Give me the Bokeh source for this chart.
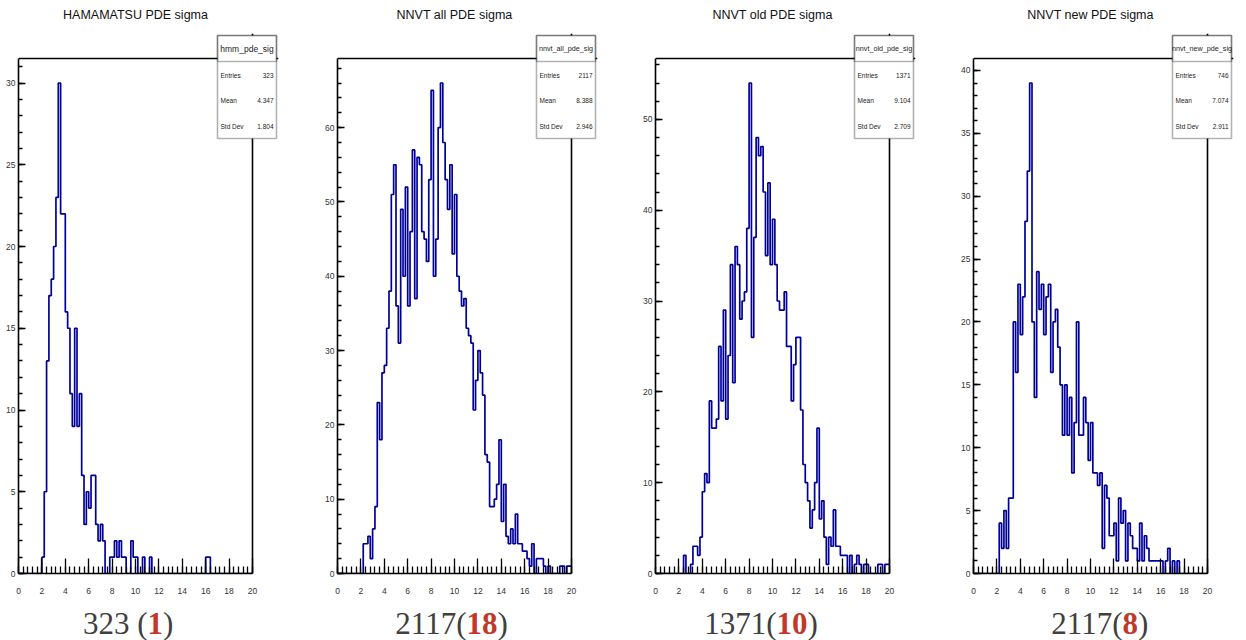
from bokeh.plotting import figure
from bokeh.layouts import row, column
from bokeh.models import Range1d, SingleIntervalTicker, BoxAnnotation, Span, Label
from bokeh.embed import file_html
from bokeh.resources import INLINE

# ---------------- data ----------------
bin_edges = [round(0.2 * i, 1) for i in range(101)]   # 100 bins, 0..20

hmm_counts = [
    0, 0, 0, 0, 0, 0, 0, 0, 0, 0,
    1, 5, 13, 17, 18, 20, 23, 30, 22, 22,
    16, 15, 11, 9, 15, 9, 11, 6, 3, 5,
    4, 6, 6, 3, 2, 3, 2, 0, 0, 1,
    1, 2, 1, 2, 1, 1, 0, 0, 2, 1,
    1, 0, 0, 1, 0, 0, 1, 0, 0, 0,
    0, 0, 0, 0, 0, 0, 0, 0, 0, 0,
    0, 0, 0, 0, 0, 0, 0, 0, 0, 0,
    1, 1, 0, 0, 0, 0, 0, 0, 0, 0,
    0, 0, 0, 0, 0, 0, 0, 0, 0, 0]

nnvt_all_counts = [
    0, 0, 0, 0, 0, 0, 0, 0, 0, 0,
    0, 4, 4, 5, 2, 6, 9, 23, 18, 27,
    28, 33, 38, 51, 55, 36, 31, 49, 40, 52,
    36, 46, 57, 37, 56, 55, 46, 45, 42, 53,
    65, 40, 45, 60, 66, 58, 53, 49, 55, 43,
    51, 40, 38, 36, 37, 33, 32, 31, 22, 26,
    30, 27, 24, 16, 15, 9, 9, 10, 12, 18,
    7, 12, 5, 4, 6, 4, 8, 4, 4, 3,
    3, 2, 1, 4, 0, 2, 2, 2, 1, 0,
    1, 0, 0, 0, 0, 1, 1, 0, 1, 1]

nnvt_old_counts = [
    0, 0, 0, 0, 0, 0, 0, 0, 0, 0,
    0, 0, 2, 0, 0, 1, 3, 3, 2, 4,
    9, 11, 10, 19, 16, 16, 17, 25, 19, 29,
    17, 24, 34, 21, 36, 34, 28, 30, 31, 38,
    54, 26, 37, 48, 46, 47, 42, 35, 43, 34,
    39, 34, 30, 29, 29, 31, 25, 25, 19, 23,
    26, 26, 18, 12, 10, 8, 5, 7, 10, 16,
    6, 8, 4, 1, 4, 3, 7, 3, 3, 2,
    2, 2, 0, 2, 0, 1, 2, 1, 0, 1,
    1, 0, 0, 0, 0, 1, 1, 0, 1, 1]

nnvt_new_counts = [
    0, 0, 0, 0, 0, 0, 0, 0, 0, 0,
    0, 4, 2, 5, 2, 6, 6, 20, 16, 23,
    19, 22, 28, 32, 39, 20, 14, 24, 21, 23,
    19, 22, 23, 16, 20, 21, 18, 15, 11, 15,
    11, 14, 8, 12, 20, 11, 11, 14, 12, 9,
    12, 8, 8, 7, 8, 2, 7, 6, 3, 3,
    4, 1, 6, 4, 5, 1, 4, 3, 2, 2,
    1, 4, 1, 3, 2, 1, 1, 1, 1, 1,
    1, 0, 1, 2, 0, 1, 0, 1, 0, 0,
    0, 0, 0, 0, 0, 0, 0, 0, 0, 0]

titles = ["HAMAMATSU PDE sigma", "NNVT all PDE sigma", "NNVT old PDE sigma", "NNVT new PDE sigma"]
hist_names = ["hmm_pde_sig", "nnvt_all_pde_sig", "nnvt_old_pde_sig", "nnvt_new_pde_sig"]
entries = ["323", "2117", "1371", "746"]
means = ["4.347", "8.388", "9.104", "7.074"]
std_devs = ["1.804", "2.946", "2.709", "2.911"]
caption_main = ["323 (", "2117(", "1371(", "2117("]
caption_red = ["1", "18", "10", "8"]
y_major = [5, 10, 10, 5]
all_counts = [hmm_counts, nnvt_all_counts, nnvt_old_counts, nnvt_new_counts]

# ---------------- layout geometry (pixels) ----------------
W = 1246
fig_widths = [318, 318, 318, 292]
fig_offsets = [0, 318, 636, 954]
left_borders = [18, 19, 19, 19]
HIST_W = 234          # x from 0 to 20
EXTRA_W = 26          # frame extension on the right for the stats box
STRIP_TOP = 33        # height of title strip
AXIS_Y = 573          # global pixel y of the x axis
ROOT_TOP = 58         # global pixel y of the histogram frame top
HIST_BOTTOM = 603     # global pixel y where caption strip starts
caption_split = [147, 466, 776, 1122]
caption_mid = 622.5
header_sizes = ["8.5px", "7.2px", "7.2px", "7.2px"]

HIST_COLOR = "#000099"
FONT = "Liberation Sans"
SERIF = "Liberation Serif"


def strip(height, y_top):
    s = figure(width=W, height=height,
               x_range=Range1d(0, W), y_range=Range1d(y_top + height, y_top),
               output_backend="svg", toolbar_location=None,
               min_border=0, outline_line_color=None,
               background_fill_color="white", border_fill_color="white")
    s.axis.visible = False
    s.grid.visible = False
    return s


# title strip (data coordinates = page pixels)
title_fig = strip(STRIP_TOP, 0)
for k in range(4):
    cx = fig_offsets[k] + left_borders[k] + HIST_W / 2
    title_fig.add_layout(Label(x=cx, y=14, text=titles[k], text_font=FONT,
                               text_font_size="12.5px", text_align="center",
                               text_baseline="middle", text_color="#111111"))

# caption strip
cap_fig = strip(640 - HIST_BOTTOM, HIST_BOTTOM)
for k in range(4):
    split = caption_split[k]
    red_w = 15.5 * len(caption_red[k])
    cap_fig.add_layout(Label(x=split, y=caption_mid, text=caption_main[k],
                             text_font=SERIF, text_font_size="31px",
                             text_align="right", text_baseline="middle",
                             text_color="#404040"))
    cap_fig.add_layout(Label(x=split, y=caption_mid, text=caption_red[k],
                             text_font=SERIF, text_font_size="31px",
                             text_font_style="bold", text_align="left",
                             text_baseline="middle", text_color="#c0392b"))
    cap_fig.add_layout(Label(x=split + red_w, y=caption_mid, text=")",
                             text_font=SERIF, text_font_size="31px",
                             text_align="left", text_baseline="middle",
                             text_color="#404040"))

figs = []
for k in range(4):
    counts = all_counts[k]
    ymax = 1.05 * max(counts)
    lb = left_borders[k]
    frame_w = HIST_W + EXTRA_W
    rb = fig_widths[k] - lb - frame_w
    px_per_y = (AXIS_Y - ROOT_TOP) / ymax
    y_end = (AXIS_Y - STRIP_TOP) / px_per_y
    x_end = 20.0 * frame_w / HIST_W

    p = figure(width=fig_widths[k], height=HIST_BOTTOM - STRIP_TOP,
               x_range=Range1d(0, x_end), y_range=Range1d(0, y_end),
               output_backend="svg", toolbar_location=None,
               min_border_left=lb, min_border_right=rb,
               min_border_top=0, min_border_bottom=HIST_BOTTOM - AXIS_Y,
               outline_line_color=None,
               background_fill_color="white", border_fill_color="white")
    p.xgrid.visible = False
    p.ygrid.visible = False

    def dx(px, lb=lb):
        return (px - lb) / HIST_W * 20.0

    def dy(py, s=px_per_y):
        return (AXIS_Y - py) / s

    # histogram outline
    p.step(bin_edges, counts + [counts[-1]], mode="after",
           line_color=HIST_COLOR, line_width=1.7)

    # axes in ROOT style
    p.xaxis.ticker = SingleIntervalTicker(interval=2, num_minor_ticks=5)
    p.yaxis.ticker = SingleIntervalTicker(interval=y_major[k], num_minor_ticks=5)
    p.xaxis.bounds = (0, 20)
    p.yaxis.bounds = (0, ymax)
    for ax in (p.xaxis, p.yaxis):
        ax.axis_line_color = "black"
        ax.axis_line_width = 1.6
        ax.major_tick_line_color = "black"
        ax.minor_tick_line_color = "black"
        ax.major_tick_line_width = 1.3
        ax.minor_tick_line_width = 1.3
        ax.major_tick_out = 0
        ax.minor_tick_out = 0
        ax.major_label_text_font = FONT
        ax.major_label_text_font_size = "8.5px"
        ax.major_label_text_color = "#333333"
    p.xaxis.major_tick_in = 15
    p.xaxis.minor_tick_in = 7
    p.xaxis.major_label_standoff = 14
    p.yaxis.major_tick_in = 7
    p.yaxis.minor_tick_in = 4
    p.yaxis.major_label_standoff = 3

    # top / right frame lines of the histogram pad
    p.add_layout(Span(location=20, dimension="height", line_color="black", line_width=1.6))
    p.add_layout(Span(location=ymax, dimension="width", line_color="black", line_width=1.6))

    # stats box
    frame_right = lb + HIST_W
    bl, br = frame_right - 35, frame_right + 24
    p.add_layout(BoxAnnotation(left=dx(bl), right=dx(br), top=dy(35), bottom=dy(138),
                               fill_color="white", fill_alpha=1.0,
                               line_color="black", line_width=1.6))
    p.add_layout(BoxAnnotation(left=dx(bl), right=dx(br), top=dy(35), bottom=dy(61),
                               fill_color="white", fill_alpha=0.0,
                               line_color="black", line_width=1.6))
    p.add_layout(Label(x=dx((bl + br) / 2), y=dy(48), text=hist_names[k],
                       text_font=FONT, text_font_size=header_sizes[k],
                       text_align="center", text_baseline="middle", text_color="#222222"))
    for lab, val, yy in (("Entries", entries[k], 75), ("Mean", means[k], 100),
                         ("Std Dev", std_devs[k], 126)):
        p.add_layout(Label(x=dx(bl + 3), y=dy(yy), text=lab, text_font=FONT,
                           text_font_size="6.5px", text_align="left",
                           text_baseline="middle", text_color="#222222"))
        p.add_layout(Label(x=dx(br - 3), y=dy(yy), text=val, text_font=FONT,
                           text_font_size="6.5px", text_align="right",
                           text_baseline="middle", text_color="#222222"))
    figs.append(p)

layout = column(title_fig, row(*figs), cap_fig)
open("out.html", "w").write(file_html(layout, INLINE))
